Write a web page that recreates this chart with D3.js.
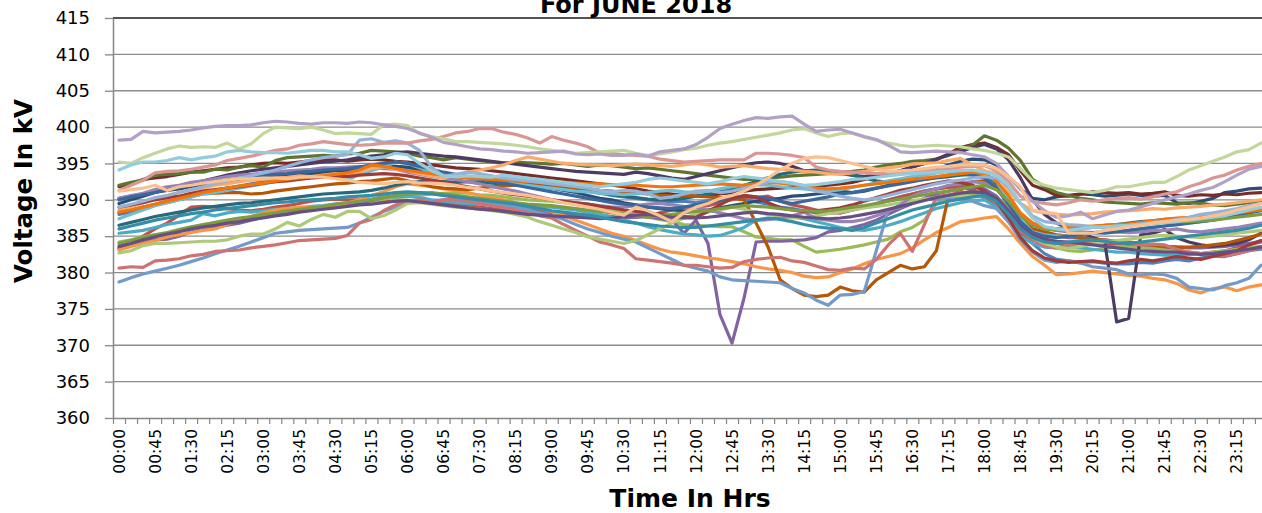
<!DOCTYPE html>
<html>
<head>
<meta charset="utf-8">
<script src="https://cdn.jsdelivr.net/npm/d3@7"></script>
<style>
body{margin:0;background:#fff;}
svg{display:block;font-family:"DejaVu Sans",sans-serif;}
</style>
</head>
<body>
<svg id="chart" width="1262" height="513"></svg>
<script>
// categories: 15 minute slots for one day
const times = [
"00:00","00:15","00:30","00:45","01:00","01:15","01:30","01:45","02:00","02:15","02:30","02:45",
"03:00","03:15","03:30","03:45","04:00","04:15","04:30","04:45","05:00","05:15","05:30","05:45",
"06:00","06:15","06:30","06:45","07:00","07:15","07:30","07:45","08:00","08:15","08:30","08:45",
"09:00","09:15","09:30","09:45","10:00","10:15","10:30","10:45","11:00","11:15","11:30","11:45",
"12:00","12:15","12:30","12:45","13:00","13:15","13:30","13:45","14:00","14:15","14:30","14:45",
"15:00","15:15","15:30","15:45","16:00","16:15","16:30","16:45","17:00","17:15","17:30","17:45",
"18:00","18:15","18:30","18:45","19:00","19:15","19:30","19:45","20:00","20:15","20:30","20:45",
"21:00","21:15","21:30","21:45","22:00","22:15","22:30","22:45","23:00","23:15","23:30","23:45"];
const yTicks = [360,365,370,375,380,385,390,395,400,405,410,415];
const colors = ["#4F81BD","#C0504D","#9BBB59","#8064A2","#4BACC6","#F79646",
  "#2C4D75","#772C2A","#5F7530","#4D3B62","#276A7C","#B65708",
  "#729ACA","#CD7371","#AFC97A","#9983B5","#6FBDD1","#F9AB6B",
  "#3A679C","#9F3B38","#7E9D40","#664F83","#358EA6","#F3740B",
  "#95B3D7","#D99694","#C3D69B","#B2A1C7","#93CDDD","#FAC090"];

// one array per day of June (kV)
const day01 = [388.0,388.3,388.9,389.3,389.6,390.0,390.4,390.9,391.3,391.6,391.9,392.2,
392.5,392.7,392.9,393.0,393.3,393.5,393.6,393.8,394.0,394.2,394.5,394.6,
394.3,394.0,393.7,393.5,393.3,393.0,392.8,392.6,392.5,392.3,392.2,392.1,
392.0,391.7,391.5,391.2,390.9,390.6,390.4,390.2,390.0,389.9,389.7,389.8,
389.6,389.9,390.2,390.5,390.1,389.7,389.4,389.0,388.8,388.5,388.2,388.4,
388.2,388.6,389.0,389.5,390.0,390.4,390.8,391.2,391.5,391.8,392.0,391.2,
390.2,389.3,388.0,385.8,384.0,382.6,381.8,381.6,381.4,381.5,381.3,381.2,
381.2,381.4,381.3,381.6,381.8,381.6,382.0,382.3,382.2,382.6,383.0,383.2];
const day02 = [383.3,384.0,385.0,386.0,386.8,387.9,389.0,389.1,389.0,388.8,388.6,388.5,
388.7,389.0,389.2,389.5,389.8,390.0,390.1,390.0,390.0,389.9,389.8,389.8,
389.8,389.7,389.6,389.5,389.4,389.2,389.0,388.8,388.6,388.5,388.3,388.2,
388.3,388.1,388.0,387.8,387.9,387.7,387.5,387.6,387.8,388.2,388.6,389.0,
389.0,389.2,389.6,390.0,390.4,390.3,390.5,389.8,389.3,389.0,388.6,388.2,
388.2,388.6,389.0,389.4,389.9,390.4,390.8,391.2,391.5,391.7,391.8,391.5,
390.5,389.2,387.0,385.2,384.5,384.2,384.0,383.8,384.0,384.2,384.0,383.8,
383.6,383.4,383.5,383.3,383.0,382.8,382.6,382.8,383.0,383.4,383.8,384.2];
const day03 = [384.2,384.5,384.9,385.2,385.4,385.8,386.2,386.5,386.8,387.1,387.3,387.5,
387.8,388.0,388.2,388.4,388.6,388.8,389.1,389.3,389.5,389.8,390.1,390.3,
390.4,390.6,390.8,390.9,391.0,390.9,390.7,390.6,390.4,390.2,390.0,389.9,
389.8,389.6,389.4,389.1,388.8,388.5,388.2,387.9,387.6,387.3,387.0,386.6,
386.5,386.4,386.3,386.3,385.6,384.9,384.7,384.5,384.5,383.6,382.8,383.0,
383.2,383.5,383.8,384.2,384.6,385.6,386.2,387.2,389.5,390.0,390.5,390.8,
391.3,390.4,389.0,387.5,386.0,384.6,383.4,383.0,382.9,383.1,383.3,383.6,
383.5,383.4,383.3,383.1,382.9,382.7,382.6,382.8,383.0,383.2,383.4,383.6];
const day04 = [383.4,383.8,384.2,384.5,384.6,385.0,385.6,385.9,386.2,386.5,386.8,387.2,
387.6,387.9,388.2,388.4,388.7,389.0,389.2,389.3,389.5,389.9,390.3,390.6,
391.0,391.0,390.9,390.6,390.4,390.1,389.8,389.5,389.2,389.0,388.8,388.5,
388.3,388.1,387.9,387.8,387.7,387.6,387.5,387.6,387.7,387.4,387.2,385.4,
387.2,384.0,374.2,370.3,376.5,384.2,384.3,384.3,384.4,384.5,384.8,385.6,
385.8,386.2,386.6,387.2,388.0,388.8,389.5,390.2,390.8,391.2,391.6,391.8,
391.5,390.5,388.6,386.8,385.8,385.3,385.0,384.8,384.8,384.6,384.5,384.2,
384.0,383.9,383.8,383.6,383.5,383.4,383.4,383.5,383.6,383.8,384.0,384.3];
const day05 = [385.4,385.6,385.8,386.2,386.6,386.9,387.2,388.1,387.8,388.2,388.4,388.3,
388.5,388.7,388.8,388.9,389.1,389.2,389.4,389.6,389.8,390.1,390.5,390.4,
390.5,390.3,390.0,389.8,389.6,389.5,389.4,389.3,389.2,389.1,389.0,389.0,
389.0,388.8,388.6,388.3,388.0,387.6,387.2,386.8,386.3,385.9,385.6,385.3,
385.2,385.0,385.1,385.6,386.2,387.2,387.3,387.5,387.6,387.4,387.0,386.6,
386.2,385.9,385.8,386.1,386.5,387.0,387.6,388.2,388.8,389.2,389.6,389.9,
390.0,389.0,387.0,385.0,384.0,383.5,383.4,383.5,383.4,383.2,383.0,382.8,
382.8,382.6,382.5,382.4,382.4,382.5,382.6,382.6,382.8,383.0,383.2,383.5];
const day06 = [383.1,383.6,384.0,384.4,384.9,385.2,385.5,385.8,386.0,386.6,387.2,387.7,
388.2,388.6,388.8,389.0,389.0,389.1,389.0,389.6,390.0,390.6,391.1,391.8,
392.2,392.0,391.8,391.5,391.3,391.0,390.6,390.3,390.0,389.6,389.2,388.8,
388.4,387.8,387.2,386.6,386.0,385.4,385.0,384.4,383.8,383.2,382.8,382.6,
382.3,382.0,381.8,381.5,381.2,380.8,380.5,380.3,380.0,379.5,379.3,379.4,
380.0,380.5,381.2,381.8,382.2,382.6,383.4,384.5,385.5,386.2,387.0,387.2,
387.5,387.7,386.0,384.0,382.2,381.0,379.7,379.8,380.0,380.2,380.0,379.8,
379.6,379.5,379.2,379.0,378.5,377.6,377.2,377.8,378.0,377.5,378.0,378.3];
const day07 = [389.5,390.0,390.5,391.0,391.3,391.5,391.8,392.0,392.3,392.5,392.6,392.8,
393.0,393.2,393.3,393.5,393.6,393.8,393.9,394.0,394.2,394.3,394.5,394.6,
394.5,394.2,393.8,393.6,393.4,393.2,393.0,392.8,392.5,392.2,392.0,391.8,
391.6,391.3,391.0,390.6,390.2,390.0,389.6,389.3,389.0,388.8,388.6,388.5,
388.4,388.6,388.9,389.2,389.5,389.8,390.0,390.2,390.5,390.6,390.8,391.0,
391.2,391.0,391.2,391.6,392.0,392.5,393.0,393.6,394.2,394.8,395.3,395.6,
395.5,394.8,393.2,391.5,390.2,390.0,390.4,390.6,390.8,390.7,390.5,390.6,
390.8,390.6,390.5,390.6,389.6,389.5,389.8,390.2,391.0,391.2,391.5,391.6];
const day08 = [391.8,392.2,392.8,393.0,393.2,393.5,393.8,394.0,394.2,394.4,394.5,394.8,
395.0,395.1,395.0,395.2,395.4,395.5,395.5,395.3,395.5,395.6,395.5,395.3,
395.2,395.0,394.8,394.6,394.4,394.3,394.2,394.0,393.8,393.6,393.4,393.2,
393.0,392.8,392.6,392.4,392.2,392.0,391.8,391.5,391.2,391.0,390.8,390.6,
390.5,390.6,390.8,391.0,391.2,391.4,391.5,391.6,391.7,391.8,391.9,392.0,
392.2,392.4,392.8,393.2,393.6,394.0,394.5,395.0,395.5,396.3,397.2,397.6,
397.8,397.2,396.2,394.0,392.0,391.4,390.6,390.5,390.8,391.1,391.0,390.9,
391.0,390.8,390.9,391.1,390.6,390.5,390.7,390.6,390.8,390.7,390.9,391.0];
const day09 = [392.0,392.4,392.7,393.4,393.5,393.6,393.8,393.8,394.2,394.1,394.5,394.7,
394.5,395.4,395.8,395.9,396.0,396.1,396.0,396.3,396.4,396.8,396.7,396.6,
396.4,396.0,395.8,395.5,395.8,395.6,395.4,395.2,395.0,395.2,395.1,395.0,
394.9,395.0,394.8,394.6,394.8,394.7,394.5,394.3,394.4,394.2,394.0,393.8,
393.6,393.4,393.2,393.0,392.8,392.8,393.0,393.1,393.3,393.4,393.5,393.6,
393.8,393.9,394.1,394.5,394.8,395.0,395.3,395.4,395.6,396.1,396.8,397.5,
398.8,398.2,397.1,395.4,392.8,391.8,391.0,390.6,390.2,390.0,389.7,389.6,
389.5,389.4,389.6,389.5,389.4,389.6,389.5,389.3,389.2,389.4,389.6,389.8];
const day10 = [390.2,390.5,390.8,391.2,391.5,391.8,392.2,392.6,393.0,393.4,393.7,394.0,
394.2,394.4,394.6,394.8,395.0,395.2,395.3,395.5,395.8,396.0,396.2,396.5,
396.6,396.4,396.2,396.0,395.9,395.7,395.5,395.3,395.1,394.9,394.7,394.5,
394.3,394.1,393.9,393.8,393.7,393.6,393.5,393.8,393.6,393.3,393.0,392.8,
393.2,393.6,394.0,394.4,394.8,395.1,395.2,395.0,394.6,394.0,393.9,393.8,
393.6,393.4,393.2,393.4,393.7,394.0,394.5,395.0,395.6,396.2,396.6,397.2,
397.6,397.0,395.5,393.0,390.0,388.0,386.8,386.0,385.5,384.8,384.3,373.2,
373.7,385.2,385.4,385.9,384.8,384.2,383.8,383.6,383.8,384.0,384.5,385.4];
const day11 = [386.5,386.9,387.3,387.7,388.0,388.3,388.6,388.9,389.1,389.3,389.5,389.6,
389.8,390.0,390.2,390.4,390.6,390.8,390.9,391.0,391.1,391.3,391.6,392.0,
392.3,392.5,392.6,392.5,392.4,392.5,392.4,392.3,392.2,392.1,392.0,391.9,
391.8,391.6,391.4,391.2,391.0,390.7,390.5,390.3,390.1,390.0,390.0,390.2,
390.5,390.8,391.1,391.5,392.0,392.5,393.0,393.5,393.8,394.0,394.1,393.9,
393.8,393.4,393.0,392.6,392.4,392.5,392.6,392.8,393.0,393.2,393.4,393.5,
393.5,392.2,390.0,388.0,386.5,386.1,386.0,386.0,386.2,386.3,386.5,386.6,
386.8,387.0,387.1,387.3,387.4,387.5,387.7,387.8,388.0,388.2,388.4,388.6];
const day12 = [388.2,388.6,389.0,389.4,389.8,390.2,390.5,390.8,390.9,391.0,391.0,390.8,
390.9,391.2,391.4,391.6,391.8,392.0,392.2,392.3,392.5,392.6,392.8,393.0,
392.6,392.2,391.8,391.6,391.5,391.4,391.6,391.8,391.9,392.0,392.1,392.0,
391.9,391.8,391.6,391.5,391.3,391.2,391.0,390.9,390.8,390.6,390.5,390.6,
390.5,390.4,390.3,390.2,390.0,386.8,383.5,379.0,377.8,376.9,376.7,376.9,
378.0,377.5,377.3,379.0,380.0,381.0,380.5,380.8,383.0,390.4,391.3,392.5,
392.6,391.8,389.5,387.5,386.0,385.6,385.2,385.0,384.8,384.6,384.5,384.3,
384.2,384.0,383.8,383.6,383.5,383.5,383.6,383.8,384.0,384.4,384.8,385.3];
const day13 = [378.7,379.3,379.8,380.2,380.6,381.0,381.5,382.0,382.6,383.1,383.6,384.2,
384.8,385.4,385.6,385.8,385.9,386.0,386.1,386.2,386.8,387.6,388.4,389.0,
389.6,390.0,389.9,390.0,389.9,389.8,389.7,389.6,389.4,389.0,388.6,388.2,
387.8,387.3,386.6,386.0,385.5,385.0,384.6,384.2,383.4,382.6,381.8,381.0,
380.6,380.2,379.4,379.0,378.9,378.8,378.7,378.6,377.8,377.2,376.2,375.5,
376.9,377.0,377.4,383.0,388.6,389.0,389.6,390.2,390.0,390.3,390.2,389.8,
389.2,388.8,387.0,384.5,382.8,381.7,381.4,381.6,381.3,380.8,380.6,380.4,
379.8,379.7,379.8,379.7,379.2,378.0,377.8,377.6,378.2,378.6,379.2,381.0];
const day14 = [380.6,380.8,380.7,381.6,381.7,381.9,382.3,382.5,382.9,383.0,383.1,383.4,
383.6,383.8,384.1,384.4,384.5,384.6,384.7,385.1,386.8,387.3,388.5,389.3,
389.8,390.0,389.6,390.0,390.1,389.8,389.5,389.2,388.9,388.6,388.2,387.8,
387.5,386.6,385.8,385.0,384.2,383.8,383.3,381.9,381.7,381.5,381.3,381.0,
381.0,380.8,380.6,380.7,381.5,381.8,382.0,382.1,381.6,381.4,380.9,380.4,
380.3,380.6,380.5,381.8,383.8,385.4,382.9,386.6,390.4,390.7,391.0,391.1,
390.8,389.6,388.0,385.8,384.5,383.6,383.4,383.8,384.0,384.3,384.5,384.2,
384.0,383.8,383.9,383.8,383.2,382.8,382.6,382.5,382.3,382.6,383.0,383.4];
const day15 = [382.7,383.0,383.7,384.0,384.0,384.1,384.2,384.3,384.3,384.5,385.0,385.3,
385.3,386.0,386.9,386.4,387.3,388.0,387.6,388.4,388.4,387.4,387.8,388.6,
389.5,389.6,389.4,389.2,389.0,388.9,388.7,388.5,388.3,388.0,387.6,387.0,
386.5,386.0,385.5,384.9,384.6,384.3,384.0,384.4,385.2,386.0,386.8,387.5,
388.1,388.3,388.6,389.0,388.7,388.3,388.0,387.7,387.5,387.6,387.8,388.1,
388.3,388.6,388.9,389.1,389.3,389.6,389.9,390.1,390.3,390.5,390.6,390.4,
390.6,389.8,388.0,386.2,384.8,384.0,383.5,383.3,383.6,383.9,384.2,384.4,
384.6,384.8,385.0,385.1,385.0,384.9,384.8,385.0,385.2,385.4,385.6,385.8];
const day16 = [390.2,390.6,390.9,391.4,391.8,392.0,392.4,392.6,392.9,393.2,393.4,393.5,
393.7,393.8,394.0,394.1,394.2,394.4,394.4,394.5,394.6,394.5,394.3,394.2,
393.8,393.5,393.2,393.0,392.8,392.5,392.2,391.8,391.5,391.2,390.8,390.4,
390.0,389.8,389.6,389.4,389.2,389.0,389.0,389.2,389.4,389.5,389.3,389.1,
389.0,388.6,388.2,387.8,387.4,387.2,387.3,387.5,387.8,388.3,387.4,387.2,
387.0,387.0,387.3,387.8,388.4,389.3,390.5,391.1,391.5,392.0,392.2,392.5,
392.3,391.5,389.8,388.0,386.8,386.2,385.8,385.6,385.6,385.5,385.7,385.6,
385.5,385.6,385.8,385.8,386.0,385.7,385.6,385.8,386.0,386.2,386.5,386.8];
const day17 = [387.4,388.0,388.6,389.2,389.6,390.0,390.4,390.8,391.0,391.3,391.6,391.9,
392.2,392.5,392.7,392.9,393.0,393.1,393.3,392.7,393.5,394.0,394.5,395.2,
395.0,394.4,393.8,393.4,393.2,393.0,392.9,392.6,392.4,392.2,392.0,391.8,
391.6,391.4,391.2,391.1,390.9,390.8,390.7,390.8,391.0,391.2,391.3,391.1,
391.0,391.2,391.5,391.8,392.0,392.1,392.0,391.8,391.6,391.5,391.3,391.2,
391.4,391.7,392.0,392.3,392.6,392.9,393.2,393.4,393.7,393.9,394.0,393.8,
393.6,392.5,390.0,387.4,385.6,385.2,385.0,385.0,385.2,385.4,385.6,385.7,
385.8,386.0,386.2,386.4,386.6,386.8,387.0,387.2,387.5,387.8,388.2,388.6];
const day18 = [388.6,389.0,389.6,390.2,390.6,391.0,391.4,391.6,392.0,392.2,392.5,392.7,
392.8,393.0,393.1,393.3,393.2,393.4,393.6,393.5,393.8,394.3,394.6,394.2,
394.0,393.6,393.3,393.0,393.4,393.8,394.1,394.4,394.8,395.4,395.9,395.6,
395.3,395.0,394.9,394.8,394.8,394.7,394.8,394.9,394.8,394.7,394.6,394.8,
395.0,394.8,394.5,394.6,394.7,394.5,394.3,394.2,394.1,393.9,393.8,393.6,
393.5,393.7,393.9,394.2,394.4,394.6,394.9,395.0,395.1,395.4,395.7,394.8,
394.0,393.6,391.2,389.5,388.5,388.2,388.0,387.9,388.0,388.1,388.3,388.4,
388.5,388.6,388.8,388.7,388.9,389.0,389.1,389.3,389.4,389.6,389.8,390.0];
const day19 = [390.0,390.4,390.7,391.0,391.4,391.7,392.0,392.3,392.5,392.7,392.9,393.1,
393.3,393.5,393.6,393.8,393.9,394.1,394.2,394.3,394.5,394.8,395.0,395.2,
395.0,394.6,394.2,393.8,393.5,393.2,392.9,392.6,392.3,392.0,391.7,391.4,
391.1,390.8,390.5,390.2,389.9,389.6,389.4,389.2,389.0,388.9,388.8,389.0,
389.3,389.6,389.9,390.2,390.5,390.4,390.2,389.8,389.5,389.8,390.1,390.4,
390.8,391.0,391.3,391.6,391.9,392.2,392.5,392.8,393.1,393.4,393.6,393.4,
393.0,391.6,389.4,387.0,385.5,385.0,384.8,385.0,385.2,385.5,385.4,385.6,
385.8,386.0,386.2,386.4,386.6,386.8,387.0,387.2,387.5,387.8,388.2,388.5];
const day20 = [389.0,389.3,389.6,390.0,390.3,390.5,390.9,391.2,391.4,391.6,391.8,392.0,
392.3,392.5,392.6,392.8,393.0,393.1,393.3,393.2,393.4,393.5,393.6,393.5,
393.3,393.0,392.7,392.4,392.1,391.8,391.5,391.2,390.9,390.7,390.5,390.3,
390.0,389.8,389.6,389.4,389.1,388.9,388.6,388.4,388.2,388.0,387.8,387.7,
387.6,388.4,389.3,390.2,390.6,390.4,389.6,388.9,388.6,388.4,388.5,388.7,
388.9,389.3,389.8,390.3,390.8,391.3,391.6,392.0,392.3,392.6,392.4,392.0,
391.2,389.8,387.5,384.8,383.0,382.0,381.6,381.4,381.5,381.6,381.4,381.3,
381.6,381.8,381.6,381.9,382.2,382.0,381.8,382.2,382.6,383.0,383.8,384.4];
const day21 = [384.0,384.4,384.8,385.2,385.5,385.9,386.3,386.6,386.9,387.2,387.5,387.7,
388.0,388.2,388.5,388.7,388.9,389.1,389.4,389.6,389.8,390.0,390.3,390.6,
390.8,390.9,391.0,390.8,390.6,390.4,390.2,390.0,389.8,389.6,389.4,389.3,
389.2,389.0,388.8,388.6,388.4,388.2,388.0,387.8,387.6,387.8,388.0,388.2,
388.4,388.5,388.8,389.0,389.2,389.1,389.0,388.8,388.6,388.5,388.4,388.5,
388.7,389.0,389.2,389.5,389.8,390.1,390.4,390.7,391.0,391.2,391.5,391.8,
392.0,391.4,389.8,387.8,386.5,386.0,385.8,385.9,386.0,386.2,386.3,386.4,
386.5,386.6,386.8,386.9,387.0,387.0,387.1,387.2,387.4,387.6,387.8,388.0];
const day22 = [383.6,384.0,384.5,384.9,385.3,385.6,386.0,386.3,386.5,386.8,387.0,387.3,
387.5,387.8,388.0,388.3,388.5,388.7,388.9,389.1,389.3,389.4,389.6,389.8,
389.9,389.7,389.5,389.3,389.1,388.9,388.7,388.6,388.4,388.2,388.0,387.9,
387.8,387.7,387.6,387.5,387.4,387.5,387.7,387.9,388.0,387.8,387.6,387.5,
387.5,387.6,387.8,388.0,388.2,388.3,388.1,388.0,387.8,387.6,387.5,387.4,
387.5,387.7,388.0,388.3,388.7,389.1,389.5,389.9,390.3,390.6,390.9,391.1,
391.0,390.2,388.4,386.4,385.2,384.6,384.3,384.2,384.0,383.8,383.6,383.4,
383.2,383.0,382.9,382.8,382.8,382.6,382.5,382.6,382.8,383.0,383.2,383.5];
const day23 = [386.0,386.4,386.8,387.2,387.5,387.8,388.1,388.3,388.6,388.8,389.0,389.2,
389.4,389.6,389.7,389.9,390.0,390.1,390.2,390.4,390.5,390.6,390.8,391.0,
391.1,391.0,390.8,390.6,390.4,390.2,390.0,389.8,389.6,389.4,389.1,388.8,
388.5,388.3,388.1,387.9,387.6,387.3,387.0,386.8,386.6,386.4,386.3,386.2,
386.2,386.4,386.6,386.8,387.0,387.2,387.5,387.3,387.0,386.6,386.3,386.1,
386.0,385.8,386.2,386.8,387.4,388.0,388.6,389.0,389.4,389.8,390.1,390.4,
390.6,389.8,388.0,386.0,384.8,384.2,384.0,384.2,384.4,384.5,384.3,384.1,
384.0,384.2,384.4,384.6,384.8,385.0,385.2,385.4,385.6,385.8,386.1,386.5];
const day24 = [388.3,388.6,389.0,389.4,389.8,390.2,390.6,391.0,391.3,391.6,391.9,392.1,
392.3,392.6,392.8,393.0,393.2,393.3,393.5,393.7,394.1,394.8,394.6,394.3,
394.0,393.8,393.6,393.4,393.2,393.0,392.9,392.8,392.7,392.6,392.5,392.5,
392.4,392.4,392.3,392.2,392.2,392.1,392.0,392.0,391.9,391.8,391.8,391.9,
392.0,392.1,392.2,392.1,392.0,392.2,392.4,392.3,392.1,391.8,391.6,391.5,
391.6,391.8,392.0,392.2,392.4,392.6,392.8,393.0,393.2,393.4,393.6,393.8,
393.6,392.6,390.6,388.2,386.8,386.2,386.0,386.2,386.3,386.4,386.5,386.6,
386.7,386.9,387.1,387.3,387.5,387.6,387.8,387.9,388.0,388.2,388.4,388.6];
const day25 = [389.0,389.4,389.8,390.3,390.6,391.0,391.4,391.8,392.2,392.6,393.0,393.3,
393.7,394.1,394.6,395.1,395.5,395.8,396.0,396.2,398.2,398.4,397.9,398.1,
397.8,396.8,394.5,393.2,393.5,393.8,393.6,393.3,393.0,392.8,392.6,392.4,
392.2,392.0,391.8,391.6,391.3,391.1,391.3,391.2,390.8,390.2,390.4,390.8,
391.2,391.3,391.0,391.2,391.6,392.0,392.5,392.5,392.3,391.8,391.2,390.9,
390.5,390.2,390.0,390.2,390.6,391.0,391.4,391.8,392.2,392.5,392.7,393.0,
393.2,393.0,391.8,389.5,387.8,387.0,386.8,386.6,386.5,386.3,386.2,386.4,
386.5,386.7,386.9,387.0,387.3,387.6,388.0,388.2,388.5,388.8,389.2,389.5];
const day26 = [391.3,392.0,392.7,393.7,393.9,394.0,394.2,394.5,394.8,395.4,395.7,396.0,
396.4,396.8,397.0,397.5,397.7,398.0,397.8,397.6,397.5,397.6,397.8,397.8,
397.8,398.1,398.3,398.7,399.2,399.4,399.8,399.8,399.3,399.0,398.5,397.8,
398.7,398.2,397.8,397.3,396.4,396.4,396.2,396.1,396.0,395.6,395.4,395.2,
395.3,395.4,395.5,395.5,395.5,396.4,396.4,396.3,396.1,395.8,394.5,394.1,
393.9,393.8,393.7,393.6,393.7,393.8,393.9,394.0,394.1,394.3,394.5,394.6,
394.7,394.0,392.5,390.5,389.8,389.5,389.3,389.6,390.0,389.8,390.0,390.2,
390.3,390.1,390.4,390.8,391.1,391.8,392.3,393.0,393.4,394.1,394.6,395.0];
const day27 = [395.2,395.0,395.8,396.4,397.0,397.4,397.2,397.3,397.2,397.8,397.0,397.7,
399.1,400.0,399.9,399.8,400.0,399.6,399.1,399.2,399.1,399.0,400.3,400.4,
400.2,399.1,398.7,398.4,398.0,398.0,397.9,397.8,397.7,397.5,397.3,397.0,
396.8,396.6,396.4,396.5,396.6,396.7,396.8,396.4,396.1,396.3,396.6,396.9,
397.1,397.5,397.8,398.0,398.3,398.6,398.9,399.2,399.6,399.8,399.2,398.7,
399.1,399.2,398.6,398.2,397.8,397.5,397.3,397.4,397.5,397.4,397.3,397.0,
396.8,396.4,395.9,394.3,392.6,392.0,391.6,391.4,391.2,391.0,391.3,391.8,
391.8,392.1,392.4,392.4,393.2,394.1,394.7,395.3,395.9,396.6,396.9,397.8];
const day28 = [398.2,398.3,399.4,399.2,399.3,399.4,399.6,399.9,400.1,400.2,400.2,400.3,
400.6,400.8,400.7,400.5,400.4,400.6,400.6,400.5,400.7,400.6,400.3,400.1,
399.8,399.2,398.6,397.9,397.6,397.3,397.0,396.9,396.7,396.6,396.4,396.5,
396.6,396.7,396.3,396.2,396.3,396.1,396.1,396.3,396.0,396.6,396.8,397.0,
397.6,398.6,399.8,400.4,400.9,401.3,401.2,401.4,401.5,400.4,399.4,399.6,
399.7,399.2,398.7,398.3,397.5,396.6,396.5,396.6,396.7,396.6,396.5,396.2,
395.9,395.0,393.2,391.5,389.8,388.5,387.6,387.8,388.3,387.4,387.9,388.4,
388.6,389.0,389.5,390.0,390.4,390.8,391.3,391.7,392.5,393.4,394.2,394.6];
const day29 = [394.1,394.8,395.2,395.2,395.4,395.8,395.5,395.8,396.0,396.6,396.8,396.6,
396.5,396.5,396.4,396.6,396.8,396.8,396.6,396.6,396.2,395.7,395.9,396.4,
396.2,395.0,394.0,393.3,393.2,393.3,393.2,393.1,393.4,393.2,393.0,392.8,
392.6,392.4,392.2,392.0,391.8,392.0,392.2,392.4,392.8,393.0,392.8,392.6,
392.4,392.2,392.5,392.9,393.2,393.0,392.8,392.5,392.3,392.0,392.1,392.3,
392.5,392.8,392.9,393.1,393.3,393.5,393.6,393.7,393.8,393.9,394.0,394.1,
393.8,393.4,392.0,389.5,387.5,386.3,386.0,385.8,386.0,386.2,386.3,386.4,
386.5,386.6,386.7,386.9,387.0,387.2,387.4,387.6,387.8,388.2,388.6,389.0];
const day30 = [391.2,391.4,391.6,392.0,391.3,391.8,392.0,392.3,392.5,392.7,392.9,392.9,
393.0,393.0,392.9,393.1,393.2,393.1,392.9,392.7,392.4,392.3,392.2,392.4,
392.5,392.3,392.3,392.2,392.0,391.7,391.5,391.2,391.0,390.8,390.6,390.3,
390.0,389.6,389.3,389.0,388.7,388.3,387.9,389.0,388.5,387.8,387.0,388.2,
389.0,389.5,390.2,390.6,391.2,392.0,393.0,394.1,395.0,395.7,395.9,395.8,
395.4,395.0,394.6,394.2,393.9,394.0,394.1,394.3,394.5,394.6,394.8,394.8,
394.8,394.3,393.2,391.8,388.6,388.3,388.1,385.4,385.4,385.4,385.8,386.0,
386.3,386.5,386.8,387.0,387.2,387.3,387.5,387.8,388.1,388.6,389.0,389.5];

const days = [day01,day02,day03,day04,day05,day06,day07,day08,day09,day10,
  day11,day12,day13,day14,day15,day16,day17,day18,day19,day20,
  day21,day22,day23,day24,day25,day26,day27,day28,day29,day30];

const W = 1262;
const plot = {left:113, top:18, bottom:418, step:12.02};

const svg = d3.select("#chart");

const x = d3.scaleBand().domain(times)
	.range([plot.left, plot.left + plot.step*times.length]);
const y = d3.scaleLinear().domain([360,415]).range([plot.bottom, plot.top]);
const xc = function(t){ return x(t) + x.bandwidth()/2; };

//gridlines
svg.append("g").attr("class","grid")
	.selectAll("line").data(yTicks.filter(function(v){ return v>360 && v<415; }))
	.join("line")
	.attr("x1", plot.left).attr("x2", W)
	.attr("y1", function(d){ return y(d); }).attr("y2", function(d){ return y(d); })
	.attr("stroke","#8c8c8c").attr("stroke-width",1.3);

//top border of plot area
svg.append("line")
	.attr("x1", plot.left).attr("x2", W)
	.attr("y1", y(415)).attr("y2", y(415))
	.attr("stroke","#1a1a1a").attr("stroke-width",1.6);

//series
const line = d3.line()
	.x(function(d,i){ return xc(times[i]); })
	.y(function(d){ return y(d); });

svg.append("g").attr("class","series")
	.selectAll("path").data(days).join("path")
	.attr("d", line)
	.attr("fill","none")
	.attr("stroke", function(d,i){ return colors[i]; })
	.attr("stroke-width",3.2)
	.attr("stroke-linejoin","round")
	.attr("stroke-linecap","round");

//y axis
const yAxis = d3.axisLeft(y).tickValues(yTicks).tickSize(8).tickSizeOuter(0).tickPadding(15);
const gy = svg.append("g").attr("transform","translate(" + plot.left + ",0)").call(yAxis);
gy.select(".domain").attr("stroke","#868686").attr("stroke-width",1.5);
gy.selectAll(".tick line").attr("stroke","#868686").attr("stroke-width",1.3);
gy.selectAll(".tick text")
	.attr("fill","#000").attr("font-size",18).attr("font-family","DejaVu Sans");

//x axis, labels every 45 min, tick marks between categories
const xAxis = d3.axisBottom(x)
	.tickValues(times.filter(function(d,i){ return i%3===0; }))
	.tickSize(0).tickSizeOuter(0);
const gx = svg.append("g").attr("transform","translate(0," + plot.bottom + ")").call(xAxis);
gx.select(".domain").attr("stroke","#868686").attr("stroke-width",1.5);
gx.selectAll(".tick text")
	.attr("transform","rotate(-90)")
	.attr("x",-11).attr("y",0).attr("dy","0.36em")
	.style("text-anchor","end")
	.attr("fill","#000").attr("font-size",15.5).attr("font-family","DejaVu Sans");
gx.append("g").selectAll("line").data(d3.range(times.length+1)).join("line")
	.attr("x1", function(i){ return plot.left + i*x.step() + 0.5; })
	.attr("x2", function(i){ return plot.left + i*x.step() + 0.5; })
	.attr("y1",0).attr("y2",6)
	.attr("stroke","#868686").attr("stroke-width",1.2);

//titles
svg.append("text")
	.attr("x",636).attr("y",13)
	.attr("text-anchor","middle")
	.attr("font-family","DejaVu Sans").attr("font-weight","bold").attr("font-size",24)
	.text("For JUNE 2018");

svg.append("text")
	.attr("transform","translate(32,191) rotate(-90)")
	.attr("text-anchor","middle")
	.attr("font-family","DejaVu Sans").attr("font-weight","bold").attr("font-size",24.5)
	.text("Voltage In kV");

svg.append("text")
	.attr("x",690).attr("y",507)
	.attr("text-anchor","middle")
	.attr("font-family","DejaVu Sans").attr("font-weight","bold").attr("font-size",25)
	.text("Time In Hrs");
</script>
</body>
</html>
